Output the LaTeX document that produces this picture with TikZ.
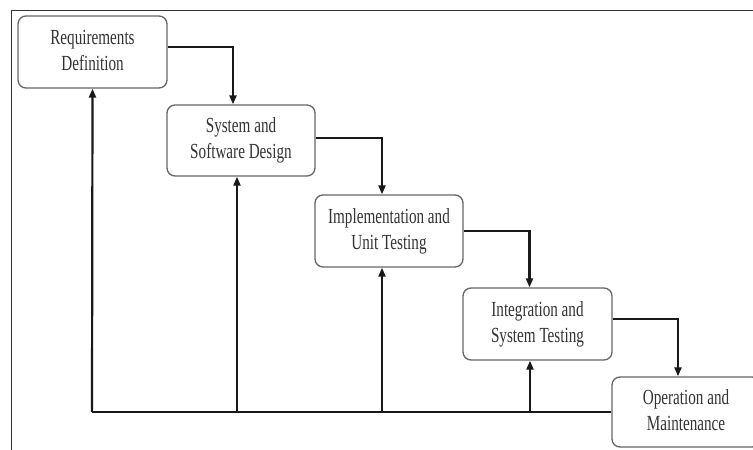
\documentclass[tikz,border=0pt]{standalone}
\usepackage{fontspec}
\setmainfont{Liberation Serif}
\usetikzlibrary{arrows.meta}
\newcommand{\boxtxt}[2]{\scalebox{0.74}[1.05]{\fontsize{20.5}{24.5}\selectfont\begin{tabular}{@{}c@{}}#1\\#2\end{tabular}}}
\tikzset{
  stage/.style={draw=black!60, line width=1.3pt, rounded corners=8pt, fill=white,
    minimum width=148pt, minimum height=71pt, inner sep=0pt, text=black!80},
  flow/.style={line width=2.2pt, black!90, -{Triangle[length=9pt,width=7pt]}},
  frameline/.style={line width=1.8pt, black!80}
}
\begin{document}
\begin{tikzpicture}[x=1pt,y=-1pt]
\clip (0,0) rectangle (753,450);
\fill[white] (0,0) rectangle (753,450);
% frame
\coordinate (fl) at (11.5,450);
\coordinate (fc) at (11.5,10.5);
\coordinate (fr) at (753,10.5);
\draw[frameline] (fl) -- (fc) -- (fr);
% stages
\node[stage, minimum width=149pt, minimum height=72pt] (B1) at (92.5,52) {\boxtxt{Requirements}{Definition}};
\node[stage] (B2) at (241,140.5) {\boxtxt{System and}{Software Design}};
\node[stage, minimum height=72pt] (B3) at (389,231) {\boxtxt{Implementation and}{Unit Testing}};
\node[stage, minimum width=149pt, minimum height=72pt] (B4) at (537.5,324) {\boxtxt{Integration and}{System Testing}};
\node[stage, minimum height=70pt] (B5) at (686,412) {\boxtxt{Operation and}{Maintenance}};
% forward flow
\draw[flow] ([yshift=5pt]B1.east) -| ([xshift=-8pt]B2.north);
\draw[flow] ([yshift=2.5pt]B2.east) -| ([xshift=-7pt]B3.north);
\draw[flow] ([yshift=0pt]B3.east) -| ([xshift=-8pt]B4.north);
\draw[flow] ([yshift=5pt]B4.east) -| ([xshift=-8pt]B5.north);
% feedback
\coordinate (base) at (92,412);
\coordinate (t2) at ([xshift=-4pt]B2.south);
\coordinate (t3) at ([xshift=-7pt]B3.south);
\coordinate (t4) at ([xshift=-7.5pt]B4.south);
\draw[line width=2.2pt, black!90] (B5.west) -- (base);
\draw[flow] (base) -- (B1.south);
\draw[flow] (t2 |- base) -- (t2);
\draw[flow] (t3 |- base) -- (t3);
\draw[flow] (t4 |- base) -- (t4);
\end{tikzpicture}
\end{document}
